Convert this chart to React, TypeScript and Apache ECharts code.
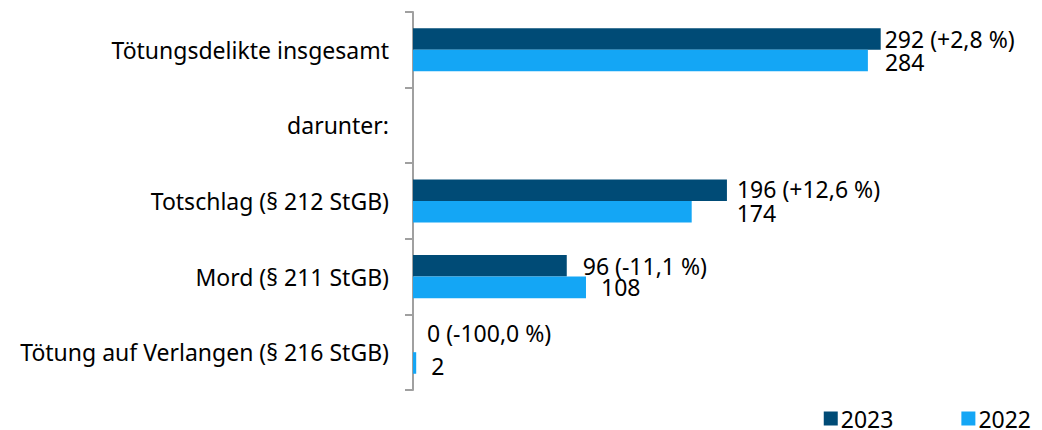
import React, { useEffect, useRef } from "react";
import * as echarts from "echarts";

const categories = [
  "Tötungsdelikte insgesamt",
  "darunter:",
  "Totschlag (§ 212 StGB)",
  "Mord (§ 211 StGB)",
  "Tötung auf Verlangen (§ 216 StGB)",
];
const values2023: (number | null)[] = [292, null, 196, 96, 0];
const values2022: (number | null)[] = [284, null, 174, 108, 2];
const seriesNames = ["2023", "2022"];

// label layout tweaks (pixels), not data
const labelDist2023 = [4, 0, 10, 16, 14];
const labelDist2022 = [17, 0, 45, 15, 15];
const labelDy2023 = [0, 0, -1, 0, -8];
const labelDy2022 = [1, 0, 1, 0, 3];

const fmtPct = (cur: number, prev: number) => {
  const p = ((cur - prev) / prev) * 100;
  const s = Math.abs(p).toFixed(1).replace(".", ",");
  return (p >= 0 ? "+" : "-") + s + " %";
};

const FONT = "Noto Sans";
const FS = 23;
const DARK = "#004b76";
const LIGHT = "#14a6f5";

export default function App() {
  const ref = useRef<HTMLDivElement>(null);
  useEffect(() => {
    if (!ref.current) return;
    const chart = echarts.init(ref.current, undefined, { renderer: "svg" });
    const d2023 = values2023.map((v, i) =>
      v === null
        ? null
        : {
            value: v,
            label: {
              show: true,
              position: "right",
              distance: labelDist2023[i],
              offset: [0, labelDy2023[i]],
              formatter: () => `${v} (${fmtPct(v, values2022[i] as number)})`,
            },
          }
    );
    const d2022 = values2022.map((v, i) =>
      v === null
        ? null
        : {
            value: v,
            label: {
              show: true,
              position: "right",
              distance: labelDist2022[i],
              offset: [0, labelDy2022[i]],
              formatter: () => `${v}`,
            },
          }
    );
    chart.setOption({
      animation: false,
      textStyle: { fontFamily: FONT },
      grid: { left: 413, top: 12, bottom: 40, right: 68.4 },
      xAxis: {
        type: "value",
        min: 0,
        max: 350,
        show: false,
      },
      yAxis: {
        type: "category",
        inverse: true,
        data: categories,
        axisLine: { show: true, lineStyle: { color: "#a0a0a0", width: 2 } },
        axisTick: { show: true, length: 8, lineStyle: { color: "#a0a0a0", width: 2 } },
        axisLabel: { color: "#000", fontSize: FS, fontFamily: FONT, margin: 24 },
      },
      legend: {
        right: 6,
        top: 402,
        itemWidth: 14,
        itemHeight: 14,
        itemGap: 68,
        icon: "rect",
        textStyle: { color: "#000", fontSize: FS, fontFamily: FONT, lineHeight: 22, padding: [0, 0, 0, -2] },
        data: seriesNames,
      },
      series: [
        {
          name: seriesNames[0],
          type: "bar",
          data: d2023,
          itemStyle: { color: DARK },
          barGap: "0%",
          barCategoryGap: "43%",
          label: { color: "#000", fontSize: FS, fontFamily: FONT, lineHeight: 20 },
        },
        {
          name: seriesNames[1],
          type: "bar",
          data: d2022,
          itemStyle: { color: LIGHT },
          barGap: "0%",
          barCategoryGap: "43%",
          label: { color: "#000", fontSize: FS, fontFamily: FONT, lineHeight: 20 },
        },
      ],
    });
    return () => chart.dispose();
  }, []);
  return (
    <div
      ref={ref}
      style={{ position: "fixed", left: 0, top: 0, width: 1042, height: 430, background: "#fff" }}
    />
  );
}
